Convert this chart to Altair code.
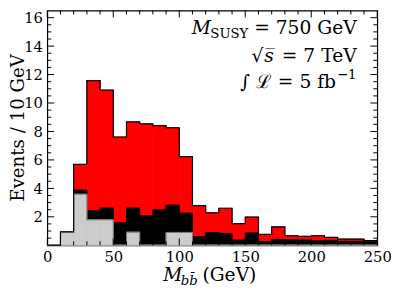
import altair as alt
import pandas as pd

# ---- data ----
bin_starts = list(range(0, 250, 10))
gray = [0, 0.94, 3.59, 1.79, 1.79, 0, 0.92, 0, 0, 0.9, 0.9, 0, 0,
        0, 0, 0, 0, 0, 0, 0, 0, 0, 0, 0, 0]
black = [0, 0, 0.29, 0.64, 0.83, 1.59, 1.70, 2.07, 2.50, 1.93, 1.36, 0.62, 0.90,
         0.83, 0.37, 0.87, 0.26, 0.41, 0.39, 0.37, 0.32, 0.34, 0.28, 0.28, 0.25]
red = [0, 0, 1.80, 9.14, 8.28, 6.02, 6.05, 6.46, 5.91, 5.43, 3.97, 2.16, 1.38,
       1.77, 1.15, 1.11, 0.50, 0.88, 0.28, 0.25, 0.35, 0.21, 0.15, 0.15, 0.07]

x_major = [0, 50, 100, 150, 200, 250]
x_minor = [v for v in range(0, 251, 10) if v % 50 != 0]
y_major = [2, 4, 6, 8, 10, 12, 14, 16]
y_minor = [v / 2 for v in range(1, 33) if v % 4 != 0]

ann_line1 = ["M", "SUSY", "= 750 GeV"]
ann_line2 = ["\u221a", "s\u0305", "= 7 TeV"]
ann_line3 = ["\u222b \u2112 = 5 fb", "\u22121"]
x_title = ["M", "bb\u0304", "(GeV)"]
y_title = "Events / 10 GeV"

# ---- derived tables ----
gb = [g + b for g, b in zip(gray, black)]
tot = [s + r for s, r in zip(gb, red)]
df = pd.DataFrame({"x0": bin_starts, "x1": [b + 10 for b in bin_starts],
                   "gray": gray, "gb": gb, "tot": tot,
                   "zero": [0] * len(bin_starts)})
step = pd.DataFrame({"x": bin_starts + [250], "tot": tot + [tot[-1]],
                     "gray": gray + [gray[-1]], "gb": gb + [gb[-1]]})

W, H = 336, 239
FONT = "DejaVu Serif"
xs = alt.Scale(domain=[0, 250], nice=False, zero=False)
ys = alt.Scale(domain=[0, 16.5], nice=False)
xax = alt.Axis(values=x_major, title=None, ticks=False, domain=False, grid=False,
               labelPadding=5, labelFontSize=15, labelFont=FONT, labelColor="black",
               labelFlush=False)
yax = alt.Axis(values=y_major, title=y_title, ticks=False, domain=False, grid=False,
               labelPadding=5, labelFontSize=15, labelFont=FONT, labelColor="black",
               titleFont=FONT, titleFontSize=18.5, titleFontWeight="normal",
               titleColor="black", titleX=-24, titleY=119, titleAngle=270,
               titleBaseline="alphabetic", titleAlign="center")


def bars(field, color):
    return alt.Chart(df).mark_rect(color=color, stroke=color, strokeWidth=0.9).encode(
        x=alt.X("x0:Q", scale=xs, axis=xax), x2="x1:Q",
        y=alt.Y(f"{field}:Q", scale=ys, axis=yax), y2="zero:Q")


def outline(field, color, width):
    return alt.Chart(step).mark_line(interpolate="step-after", color=color,
                                     strokeWidth=width).encode(
        x=alt.X("x:Q", scale=xs, axis=xax),
        y=alt.Y(f"{field}:Q", scale=ys, axis=yax))


def xticks(vals, length):
    d = pd.DataFrame({"v": vals})
    b = alt.Chart(d).mark_rule(color="black", strokeWidth=1).encode(
        x=alt.X("v:Q", scale=xs, axis=xax), y=alt.value(H), y2=alt.value(H - length))
    t = alt.Chart(d).mark_rule(color="black", strokeWidth=1).encode(
        x=alt.X("v:Q", scale=xs, axis=xax), y=alt.value(0), y2=alt.value(length))
    return [b, t]


def yticks(vals, length):
    d = pd.DataFrame({"v": vals})
    l = alt.Chart(d).mark_rule(color="black", strokeWidth=1).encode(
        y=alt.Y("v:Q", scale=ys, axis=yax), x=alt.value(0), x2=alt.value(length))
    r = alt.Chart(d).mark_rule(color="black", strokeWidth=1).encode(
        y=alt.Y("v:Q", scale=ys, axis=yax), x=alt.value(W), x2=alt.value(W - length))
    return [l, r]


def txt(s, x, y, size=19, align="left", style="normal"):
    return alt.Chart(pd.DataFrame({"t": [s]})).mark_text(
        align=align, baseline="alphabetic", font=FONT, fontSize=size,
        fontStyle=style, color="black").encode(
        text="t:N", x=alt.value(x), y=alt.value(y))


layers = [
    bars("tot", "#ff0000"),
    bars("gb", "#000000"),
    bars("gray", "#cccccc"),
    outline("gray", "#666666", 0.8),
    outline("tot", "#000000", 1.2),
]
layers += xticks(x_major, 7) + xticks(x_minor, 4)
layers += yticks(y_major, 7) + yticks(y_minor, 4)
layers += [
    txt(ann_line1[0], 147, 24.3, style="italic"),
    txt(ann_line1[1], 166, 27.5, size=13.5),
    txt(ann_line1[2], 315, 24.3, align="right"),
    txt(ann_line2[0], 208, 52),
    txt(ann_line2[1], 221, 52, style="italic"),
    txt(ann_line2[2], 315, 52, align="right"),
    txt(ann_line3[0], 294, 78.7, align="right"),
    txt(ann_line3[1], 295, 70, size=13.5),
    txt(x_title[0], 118, 275, style="italic"),
    txt(x_title[1], 136, 279, size=13.5, style="italic"),
    txt(x_title[2], 158, 275),
]

chart = alt.layer(*layers).properties(
    width=W, height=H,
    autosize=alt.AutoSizeParams(type="none"),
    padding={"left": 40, "top": 0, "right": 14, "bottom": 45},
).configure_view(stroke="black", strokeWidth=1.2)

chart.save("out.html", embed_options={"renderer": "svg", "actions": False})
